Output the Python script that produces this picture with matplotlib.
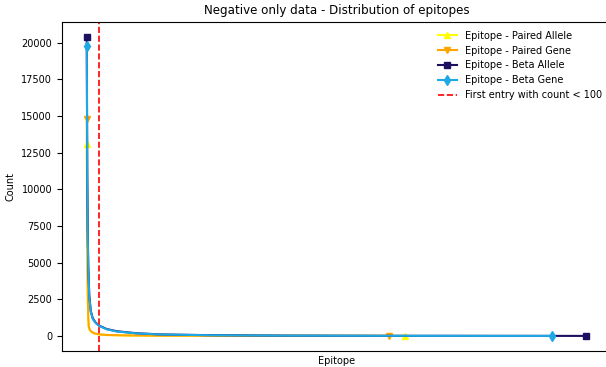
import matplotlib.pyplot as plt

# sorted epitope counts (rank -> count)
pa_rank = [0, 1, 2, 3, 4, 6, 10, 16, 24, 40, 80, 150, 300, 637]
pa_count = [13100, 6000, 2500, 1100, 600, 380, 250, 160, 100, 60, 30, 15, 5, 1]

pg_rank = [0, 1, 2, 3, 4, 6, 10, 16, 24, 40, 80, 150, 300, 605]
pg_count = [14800, 7000, 3000, 1300, 650, 420, 270, 170, 110, 65, 32, 15, 5, 1]

ba_rank = [0, 1, 2, 3, 5, 8, 12, 18, 25, 40, 60, 100, 150, 250, 400, 600, 999]
ba_count = [20400, 11000, 7000, 4800, 2800, 1700, 1200, 900, 700, 470, 320, 180, 100, 50, 20, 8, 1]

bg_rank = [0, 1, 2, 3, 5, 8, 12, 18, 25, 40, 60, 100, 150, 250, 400, 600, 932]
bg_count = [19800, 10500, 6700, 4600, 2700, 1650, 1150, 870, 680, 450, 300, 170, 95, 45, 18, 7, 1]

cutoff = 24

plt.figure(figsize=(6.06, 3.67), dpi=100)
plt.plot(pa_rank, pa_count, color='yellow', marker='^', markevery=[0, -1],
         markersize=5, label='Epitope - Paired Allele')
plt.plot(pg_rank, pg_count, color='orange', marker='v', markevery=[0, -1],
         markersize=5, label='Epitope - Paired Gene')
plt.plot(ba_rank, ba_count, color='#1c1060', marker='s', markevery=[0, -1],
         markersize=4, label='Epitope - Beta Allele')
plt.plot(bg_rank, bg_count, color='#1ea8e6', marker='d', markevery=[0, -1],
         markersize=5, label='Epitope - Beta Gene')
plt.axvline(cutoff, color='red', linestyle='--', linewidth=1.2,
            label='First entry with count < 100')

plt.title('Negative only data - Distribution of epitopes', fontsize=8.6)
plt.xlabel('Epitope', fontsize=7)
plt.ylabel('Count', fontsize=7)
plt.xticks([])
plt.yticks(fontsize=7)
plt.legend(fontsize=7, frameon=False, loc='upper right')
# the original picture is cropped on the right, so the axes run past the edge
plt.subplots_adjust(left=0.102, right=1.008, top=0.94, bottom=0.044)
plt.savefig('out.png')
